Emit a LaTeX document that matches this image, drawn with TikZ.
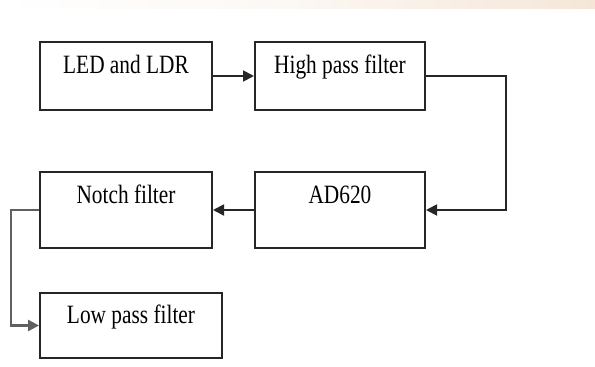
\documentclass[tikz,border=0pt]{standalone}
\usepackage{fontspec}
\usepackage{graphicx}
\setmainfont{Liberation Serif}
\usetikzlibrary{arrows.meta}
\definecolor{boxline}{HTML}{262626}
\definecolor{peach}{HTML}{F5E6D8}
\newcommand{\tallt}[1]{\scalebox{0.97}[1.2]{#1}}
\tikzset{
  blockbox/.style={draw=boxline, line width=2pt, fill=white, inner sep=0pt,
    anchor=north west, align=center,
    font=\fontsize{22}{24}\selectfont},
  conn/.style={draw=boxline, line width=1.8pt, -{Triangle[length=11pt,width=11pt]}},
  grayconn/.style={draw=gray!75!black, line width=2.6pt, -{Triangle[length=11pt,width=11pt]}}
}
\begin{document}
\begin{tikzpicture}[x=1pt,y=-1pt]
\useasboundingbox (0,0) rectangle (595,367);
\shade[left color=white, right color=peach, middle color=white!70!peach] (0,0) rectangle (595,8);
\node[blockbox, minimum width=172pt, text height=31pt, text depth=37pt] (led) at (39,41) {\tallt{LED and LDR}};
\node[blockbox, minimum width=170pt, text height=31pt, text depth=37pt] (hpf) at (254,41) {\tallt{High pass filter}};
\node[blockbox, minimum width=172pt, text height=31pt, text depth=45pt] (notch) at (39,171) {\tallt{Notch filter}};
\node[blockbox, minimum width=170pt, text height=31pt, text depth=45pt] (ad) at (254,171) {\tallt{AD620}};
\node[blockbox, minimum width=182pt, text height=30pt, text depth=35pt] (lpf) at (39,292) {\tallt{Low pass filter}};
\coordinate (rt) at (506,0);
\coordinate (lt) at (11,0);
\draw[conn] (led.east) -- (hpf.west);
\draw[conn] (hpf.east) -- (hpf.east -| rt) |- (ad.east);
\draw[conn] (ad.west) -- (notch.east);
\draw[grayconn] (notch.west) -- (notch.west -| lt) |- (lpf.west);
\end{tikzpicture}
\end{document}
